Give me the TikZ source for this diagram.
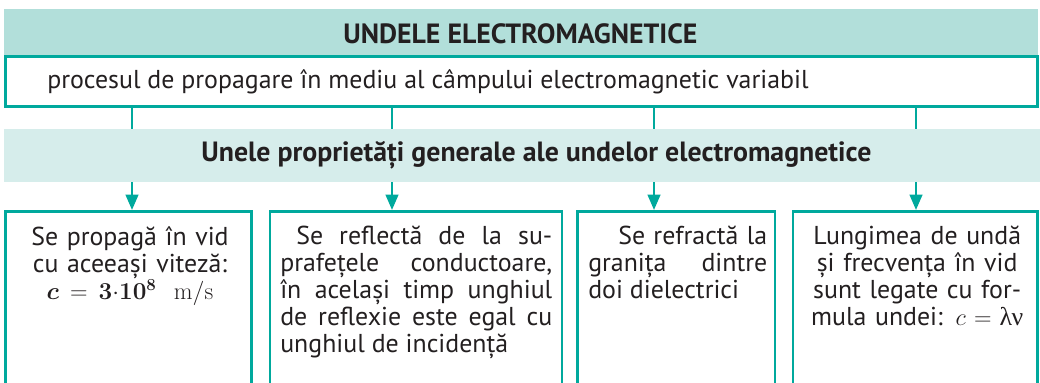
\documentclass[tikz,border=0pt]{standalone}
\usepackage[no-math]{fontspec}
\setmainfont{PT Sans}
\newfontfamily\greekfont{Liberation Serif}
\usepackage{bm}
\usetikzlibrary{arrows.meta}
\definecolor{undeteal}{HTML}{00A99D}
\definecolor{titlefill}{HTML}{B2DFDA}
\definecolor{bandfill}{HTML}{D6EDEB}
\definecolor{ink}{HTML}{231F20}
\pgfdeclarelayer{edgelayer}
\pgfdeclarelayer{nodelayer}
\pgfsetlayers{edgelayer,nodelayer,main}
\tikzstyle{band}=[rectangle, inner sep=0pt]
\tikzstyle{frame}=[rectangle, draw=undeteal, line width=1.8pt, inner sep=0pt]
\tikzstyle{link}=[draw=undeteal, line width=1.8pt]
\tikzstyle{arrowlink}=[link, -{Triangle[length=11pt, width=9pt]}]
\tikzstyle{boxtext}=[inner sep=0pt, text=ink, font=\fontsize{18.4}{19.2}\selectfont]
\tikzstyle{headtext}=[inner sep=0pt, text=ink, font=\bfseries\fontsize{19.8}{21}\selectfont]

\begin{document}
\begin{tikzpicture}
				\useasboundingbox (0,0) rectangle (26,9.55);
				\begin{pgfonlayer}{nodelayer}
					\node [style=band, fill=titlefill, minimum width=25.85cm, minimum height=1.15cm] (0) at (13.025, 8.75) {};
					\node [style=frame, fill=white, minimum width=25.8cm, minimum height=1.25cm] (1) at (13.039, 7.5125) {};
					\node [style=band, fill=bandfill, minimum width=25.9cm, minimum height=1.325cm] (2) at (13.05, 5.6625) {};
					\node [style=frame, anchor=north, minimum width=6.15cm, minimum height=4.4cm] (3) at (3.2125, 4.3) {};
					\node [style=frame, anchor=north, minimum width=7.3cm, minimum height=4.4cm] (4) at (10.4, 4.3) {};
					\node [style=frame, anchor=north, minimum width=4.9375cm, minimum height=4.4cm] (5) at (16.906, 4.3) {};
					\node [style=frame, anchor=north, minimum width=6.1125cm, minimum height=4.4cm] (6) at (22.881, 4.3) {};
					\node [style=headtext, anchor=base] (7) at (13.01, 8.467) {UNDELE ELECTROMAGNETICE};
					\node [style=boxtext, anchor=base west] (8) at (1.175, 7.325) {procesul de propagare în mediu al câmpului electromagnetic variabil};
					\node [style=headtext, anchor=base] (9) at (13.41, 5.5) {Unele proprietăți generale ale undelor electromagnetice};
					\node [style=boxtext, anchor=north, align=center, text width=5.8cm] (10) at (3.25, 3.9) {Se propagă în vid\\cu aceeași viteză:\\$\bm{c}=\bm{3}{\cdot}\bm{10^{8}}\ \ \mathrm{m/s}$};
					\node [style=boxtext, anchor=north west, align=justify, text width=6.8cm] (11) at (7.0, 3.9) {\hspace*{0.4cm}Se reflectă de la su-\linebreak prafețele conductoare,\linebreak în același timp unghiul\linebreak de reflexie este egal cu\linebreak unghiul de incidență};
					\node [style=boxtext, anchor=north west, align=justify, text width=4.475cm] (12) at (14.7, 3.9) {\hspace*{0.75cm}Se refractă la\linebreak granița dintre\linebreak doi dielectrici};
					\node [style=boxtext, anchor=north, align=center, text width=5.8cm] (13) at (22.93, 3.9) {Lungimea de undă\\și frecvența în vid\\sunt legate cu for-\\mula undei: $c={}${\greekfont λν}};
				\end{pgfonlayer}
				\begin{pgfonlayer}{edgelayer}
					\coordinate (14) at (3.3, 0);
					\coordinate (15) at (9.8, 0);
					\coordinate (16) at (16.35, 0);
					\coordinate (17) at (22.9, 0);
					\draw [style=link] (1.south -| 14) to (2.north -| 14);
					\draw [style=link] (1.south -| 15) to (2.north -| 15);
					\draw [style=link] (1.south -| 16) to (2.north -| 16);
					\draw [style=link] (1.south -| 17) to (2.north -| 17);
					\draw [style=arrowlink] (2.south -| 14) to (3.north -| 14);
					\draw [style=arrowlink] (2.south -| 15) to (4.north -| 15);
					\draw [style=arrowlink] (2.south -| 16) to (5.north -| 16);
					\draw [style=arrowlink] (2.south -| 17) to (6.north -| 17);
				\end{pgfonlayer}
			\end{tikzpicture}
\end{document}
